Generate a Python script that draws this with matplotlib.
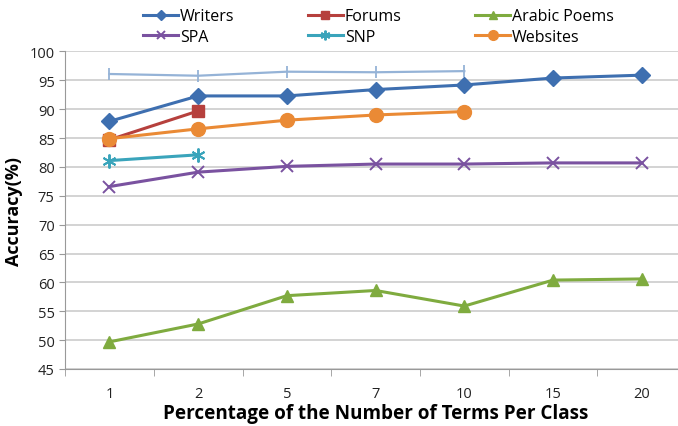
import numpy as np
import matplotlib
matplotlib.use('Agg')
import matplotlib.pyplot as plt

plt.rcParams['font.family'] = ['Open Sans', 'DejaVu Sans']

# x categories (percentage of terms per class)
x_labels = ['1', '2', '5', '7', '10', '15', '20']

writers = [87.9, 92.3, 92.3, 93.4, 94.2, 95.4, 95.9]
forums = [84.7, 89.7]
arabic_poems = [49.7, 52.8, 57.7, 58.6, 55.9, 60.4, 60.6]
spa = [76.6, 79.1, 80.1, 80.5, 80.5, 80.7, 80.7]
snp = [81.1, 82.1]
websites = [84.9, 86.6, 88.1, 89.0, 89.6]
unlabeled = [96.1, 95.8, 96.5, 96.4, 96.6]

fig = plt.figure(figsize=(6.78, 4.27), dpi=100)
ax = fig.add_axes([0.096, 0.1335, 0.916, 0.7436])

xi = np.arange(len(x_labels))
lw = 2.2

ax.plot(xi[:len(unlabeled)], unlabeled, color='#95b3d7', lw=1.6, marker='|',
        ms=9, mew=1.3, zorder=2)
h_w, = ax.plot(xi, writers, color='#3e6fb0', lw=lw, marker='D', ms=8,
               label='Writers', zorder=3)
h_f, = ax.plot(xi[:len(forums)], forums, color='#b6403d', lw=lw, marker='s',
               ms=9, label='Forums', zorder=3)
h_a, = ax.plot(xi, arabic_poems, color='#7fab3f', lw=lw, marker='^', ms=9,
               label='Arabic Poems', zorder=3)
h_s, = ax.plot(xi, spa, color='#7a52a0', lw=lw, marker='x', ms=9, mew=1.4,
               label='SPA', zorder=3)
h_n, = ax.plot(xi[:len(snp)], snp, color='#3aa4bb', lw=lw, marker=(6, 2, 0),
               ms=10, mew=1.4, label='SNP', zorder=3)
h_o, = ax.plot(xi[:len(websites)], websites, color='#ea8a35', lw=lw,
               marker='o', ms=10, label='Websites', zorder=4)

ax.set_xlim(-0.5, len(x_labels) - 0.5)
ax.set_ylim(45, 100)
ax.set_yticks(np.arange(45, 101, 5))
ax.set_xticks(xi)
ax.set_xticklabels(x_labels)
ax.set_xticks(np.arange(-0.5, len(x_labels), 1), minor=True)
ax.tick_params(axis='x', which='major', length=0, pad=12, labelsize=10.5,
               labelcolor='#222222')
ax.tick_params(axis='x', which='minor', length=5, color='#999999')
ax.tick_params(axis='y', length=4, color='#999999', labelsize=10.5,
               labelcolor='#222222')
ax.grid(axis='y', color='#c8c8c8', lw=1.1)
ax.set_axisbelow(True)
for s in ['top', 'right']:
    ax.spines[s].set_visible(False)
for s in ['left', 'bottom']:
    ax.spines[s].set_color('#999999')

ax.set_ylabel('Accuracy(%)', fontsize=13, fontweight='bold', labelpad=5)
ax.set_xlabel('Percentage of the Number of Terms Per Class', fontsize=13.6,
              fontweight='bold', labelpad=2)

handles = [h_w, h_s, h_f, h_n, h_a, h_o]
fig.legend(handles=handles, labels=[h.get_label() for h in handles], ncol=3,
           loc='upper left', bbox_to_anchor=(0.19, 1.012), frameon=False,
           fontsize=11.5, handlelength=2.2, handletextpad=0.1,
           columnspacing=4.6, labelspacing=0.3, markerscale=0.7)

fig.savefig('out.png', dpi=100)
